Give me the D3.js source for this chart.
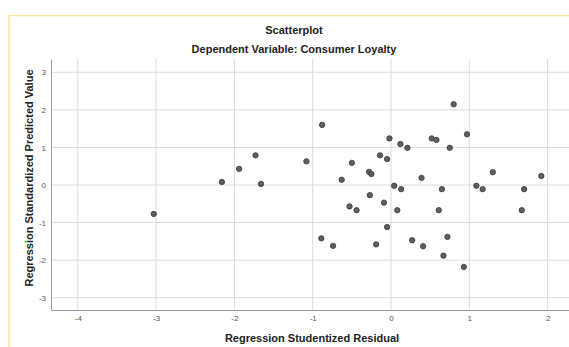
<!DOCTYPE html>
<html>
<head>
<meta charset="utf-8">
<script src="https://cdn.jsdelivr.net/npm/d3@7"></script>
<style>
  html, body { margin: 0; padding: 0; background: #fff; }
  svg { display: block; font-family: "Liberation Sans", Arial, sans-serif; }
</style>
</head>
<body>
<svg id="chart"></svg>
<script>
// residuals (x) and predicted values (y)
const residual = [-3.03, -2.16, -1.94, -1.73, -1.66, -1.08, -0.88, -0.63, -0.50, -0.28,
  -0.25, -0.14, -0.05, -0.02, 0.04, 0.12, 0.13, 0.21, 0.39, 0.52,
  0.58, 0.65, 0.75, 0.80, 0.97, 1.09, 1.17, 1.30, 1.70, 1.92,
  -0.27, -0.53, -0.44, -0.09, 0.08, 0.61, 1.67, -0.05, -0.89, -0.74,
  -0.19, 0.27, 0.41, 0.72, 0.67, 0.93];
const predicted = [-0.77, 0.08, 0.43, 0.79, 0.03, 0.63, 1.60, 0.14, 0.59, 0.35,
  0.29, 0.79, 0.69, 1.24, -0.02, 1.09, -0.11, 0.99, 0.19, 1.24,
  1.20, -0.11, 0.99, 2.15, 1.35, -0.02, -0.11, 0.34, -0.11, 0.24,
  -0.27, -0.57, -0.67, -0.47, -0.67, -0.67, -0.67, -1.12, -1.42, -1.62,
  -1.58, -1.47, -1.63, -1.38, -1.88, -2.18];
const xTicks = [-4, -3, -2, -1, 0, 1, 2];
const yTicks = [-3, -2, -1, 0, 1, 2, 3];

const width = 569;
const height = 347;
const plot = { left: 51, right: 569, top: 59, bottom: 310 };

const svg = d3.select("#chart")
    .attr("width", width)
    .attr("height", height);

// yellow frame of the output window
svg.append("path")
    .attr("d", `M9,${height} V15.5 H${width}`)
    .attr("fill", "none")
    .attr("stroke", "#fbe6a2")
    .attr("stroke-width", 1.5);

const x = d3.scaleLinear()
    .domain([-4.342, 2.273])
    .range([plot.left, plot.right]);

const y = d3.scaleLinear()
    .domain([-3.327, 3.354])
    .range([plot.bottom, plot.top]);

// grid
svg.append("g")
    .selectAll("line")
    .data(xTicks)
    .join("line")
    .attr("x1", d => x(d)).attr("x2", d => x(d))
    .attr("y1", plot.top).attr("y2", plot.bottom)
    .attr("stroke", "#dcdcdc");

svg.append("g")
    .selectAll("line")
    .data(yTicks)
    .join("line")
    .attr("x1", plot.left).attr("x2", plot.right)
    .attr("y1", d => y(d)).attr("y2", d => y(d))
    .attr("stroke", "#dcdcdc");

// axes (plain hyphen for negatives, like the original)
const fmt = d => String(d);
const xAxis = d3.axisBottom(x).tickValues(xTicks).tickFormat(fmt).tickSize(0).tickPadding(5);
const yAxis = d3.axisLeft(y).tickValues(yTicks).tickFormat(fmt).tickSize(0).tickPadding(5);

const gx = svg.append("g")
    .attr("transform", `translate(0,${plot.bottom})`)
    .call(xAxis);
const gy = svg.append("g")
    .attr("transform", `translate(${plot.left},0)`)
    .call(yAxis);

[gx, gy].forEach(g => {
    g.select(".domain").attr("stroke", "#999");
    g.selectAll("text")
        .attr("fill", "#555")
        .style("font-size", "8px")
        .style("font-family", "'Liberation Sans', Arial, sans-serif");
});

// points
svg.append("g")
    .selectAll("circle")
    .data(residual.map((r, i) => [r, predicted[i]]))
    .join("circle")
    .attr("cx", d => x(d[0]))
    .attr("cy", d => y(d[1]))
    .attr("r", 2.7)
    .attr("fill", "#5e5e5e")
    .attr("stroke", "#3a3a3a")
    .attr("stroke-width", 0.8);

// titles
svg.append("text")
    .attr("x", 294).attr("y", 34)
    .attr("text-anchor", "middle")
    .attr("font-size", 11).attr("font-weight", "bold").attr("fill", "#222")
    .text("Scatterplot");

svg.append("text")
    .attr("x", 294).attr("y", 53)
    .attr("text-anchor", "middle")
    .attr("font-size", 11).attr("font-weight", "bold").attr("fill", "#222")
    .text("Dependent Variable: Consumer Loyalty");

svg.append("text")
    .attr("x", 312).attr("y", 342)
    .attr("text-anchor", "middle")
    .attr("font-size", 11).attr("font-weight", "bold").attr("fill", "#222")
    .text("Regression Studentized Residual");

svg.append("text")
    .attr("transform", "translate(33,178) rotate(-90)")
    .attr("text-anchor", "middle")
    .attr("font-size", 11).attr("font-weight", "bold").attr("fill", "#222")
    .text("Regression Standardized Predicted Value");
</script>
</body>
</html>
